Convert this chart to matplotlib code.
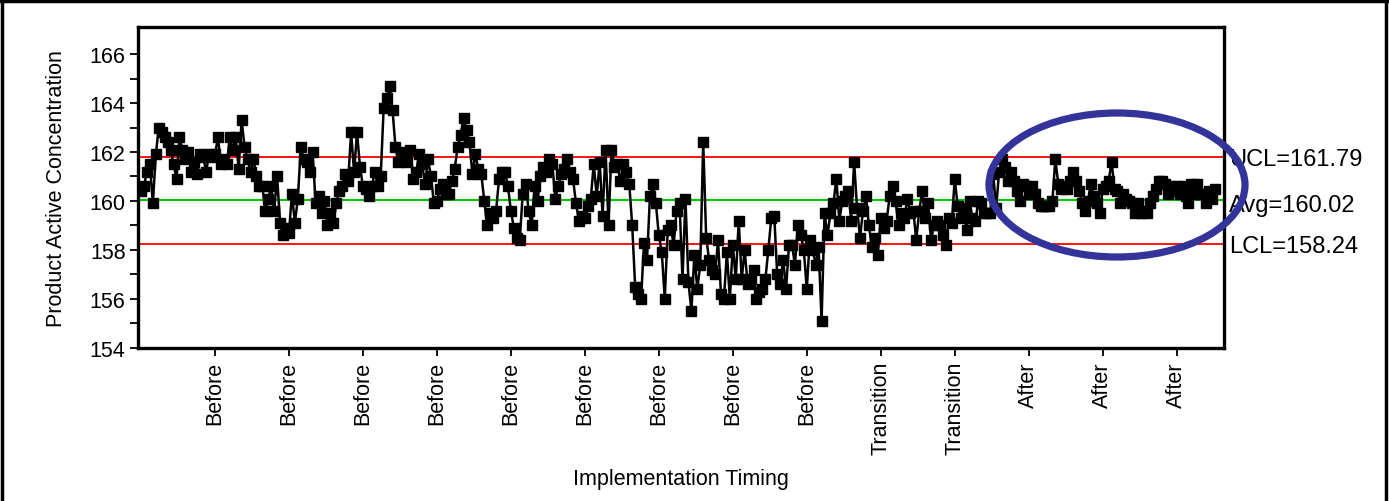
import matplotlib
matplotlib.use("Agg")
import matplotlib.pyplot as plt
from matplotlib.patches import Ellipse
from matplotlib.lines import Line2D
import matplotlib.transforms as mtransforms

plt.rcParams['font.family'] = ['Liberation Sans', 'DejaVu Sans']

# control chart values
values = [
    160.4, 160.6, 161.2, 161.5, 159.9, 161.9, 163.0, 162.8, 162.6, 162.4,
    162.1, 161.5, 160.9, 162.6, 162.1, 161.7, 162.0, 161.2, 161.6, 161.1,
    161.9, 161.8, 161.2, 161.9, 161.8, 161.9, 162.6, 161.5, 161.7, 161.5,
    162.6, 162.1, 162.6, 161.3, 163.3, 162.2, 161.7, 161.2, 161.7, 161.0,
    160.6, 160.6, 159.6, 160.1, 160.6, 159.6, 161.0, 159.1, 158.6, 158.9,
    158.7, 160.3, 159.1, 160.1, 162.2, 161.7, 161.6, 161.2, 162.0, 159.9,
    160.2, 159.5, 160.0, 159.0, 159.5, 159.1, 159.9, 160.4, 160.6, 161.1,
    160.8, 162.8, 161.2, 162.8, 161.4, 160.6, 160.5, 160.2, 160.6, 161.2,
    160.6, 161.0, 163.8, 164.2, 164.7, 163.7, 162.2, 161.6, 162.0, 161.7,
    161.6, 162.1, 160.9, 161.2, 161.9, 161.5, 160.7, 161.7, 161.0, 159.9,
    160.0, 160.5, 160.7, 160.3, 160.3, 160.8, 161.3, 162.2, 162.7, 163.4,
    162.9, 162.4, 161.1, 161.9, 161.3, 161.1, 160.0, 159.0, 159.5, 159.3,
    159.6, 160.9, 161.2, 161.2, 160.6, 159.6, 158.9, 158.5, 158.4, 160.3,
    160.7, 159.6, 159.0, 160.6, 160.0, 161.0, 161.4, 161.2, 161.7, 161.5,
    160.1, 160.6, 161.1, 161.3, 161.7, 161.2, 160.9, 159.9, 159.2, 159.4,
    159.3, 159.8, 160.1, 161.5, 160.2, 161.6, 159.4, 162.1, 159.0, 162.1,
    161.4, 161.5, 160.8, 161.5, 161.2, 160.7, 159.0, 156.5, 156.2, 156.0,
    158.3, 157.6, 160.2, 160.7, 159.9, 158.6, 157.9, 156.0, 158.8, 159.0,
    158.2, 159.6, 159.9, 156.8, 160.1, 156.7, 155.5, 157.8, 156.4, 157.4,
    162.4, 158.5, 157.6, 157.2, 157.0, 158.4, 156.2, 156.0, 157.9, 156.0,
    158.2, 156.8, 159.2, 156.8, 158.0, 156.6, 156.8, 157.2, 156.0, 156.3,
    156.4, 156.8, 158.0, 159.3, 159.4, 157.0, 156.6, 157.6, 156.4, 158.2,
    158.2, 157.4, 159.0, 158.6, 158.0, 156.4, 158.4, 158.0, 157.4, 158.1,
    155.1, 159.5, 158.6, 159.5, 159.9, 160.9, 159.2, 160.0, 160.2, 160.4,
    159.2, 161.6, 159.7, 158.5, 159.6, 160.2, 159.0, 158.1, 158.5, 157.8,
    159.3, 158.9, 159.2, 160.2, 160.6, 160.0, 159.0, 159.5, 159.3, 160.1,
    159.5, 159.6, 158.4, 159.6, 160.4, 159.3, 159.9, 158.4, 159.0, 159.2,
    159.0, 158.6, 158.2, 159.3, 159.1, 160.9, 159.8, 159.3, 159.7, 158.8,
    160.0, 159.3, 159.2, 160.0, 159.9, 159.5, 159.5, 159.5, 161.1, 159.7,
    161.2, 161.7, 161.4, 160.8, 161.2, 160.8, 160.4, 160.0, 160.7, 160.6,
    160.3, 160.6, 160.3, 159.9, 159.8, 159.8, 159.8, 159.8, 160.0, 161.7,
    160.7, 160.5, 160.6, 160.5, 160.8, 161.2, 160.8, 160.4, 159.9, 159.6,
    160.0, 160.7, 160.2, 159.9, 159.5, 160.5, 160.6, 160.8, 161.6, 160.5,
    160.4, 159.9, 160.3, 160.1, 160.0, 159.9, 159.5, 159.9, 159.5, 159.6,
    159.5, 159.9, 160.2, 160.5, 160.8, 160.8, 160.7, 160.3, 160.6, 160.4,
    160.6, 160.3, 160.6, 160.2, 159.9, 160.7, 160.3, 160.7, 160.3, 160.3,
    159.9, 160.4, 160.1, 160.5,
]

ucl = 161.79
avg = 160.02
lcl = 158.24

tick_pos = [25, 50, 75, 100, 125, 150, 175, 200, 225, 250, 275, 300, 325, 350]
tick_labels = ["Before"] * 9 + ["Transition"] * 2 + ["After"] * 3

fig = plt.figure(figsize=(13.89, 5.02), dpi=100)
ax = fig.add_axes([0.0994, 0.305, 0.7818, 0.639])

ax.axhline(ucl, color="#ff0000", lw=1.3, zorder=1)
ax.axhline(lcl, color="#ff0000", lw=1.3, zorder=1)
ax.axhline(avg, color="#00cc00", lw=1.5, zorder=1)

ax.plot(range(len(values)), values, color="black", lw=1.8,
        marker="s", markersize=6.5, zorder=3)

ax.set_xlim(-1, 366)
ax.set_ylim(154, 167.1)
ax.set_yticks(range(154, 167, 2))
ax.set_yticks(range(155, 167, 2), minor=True)
ax.set_xticks(tick_pos)
ax.set_xticklabels(tick_labels, rotation=90)
ax.tick_params(axis="both", which="both", direction="out", length=6,
               width=1.3, labelsize=15.5)
ax.tick_params(axis="y", pad=3)
for sp in ax.spines.values():
    sp.set_linewidth(2.4)

ax.set_ylabel("Product Active Concentration", fontsize=15.5, labelpad=16)
ax.set_xlabel("Implementation Timing", fontsize=15.5, labelpad=10)

trans = mtransforms.blended_transform_factory(ax.transAxes, ax.transData)
ax.text(1.005, ucl - 0.08, "UCL=161.79", transform=trans, fontsize=17, va="center")
ax.text(1.005, avg - 0.2, "Avg=160.02", transform=trans, fontsize=17, va="center")
ax.text(1.005, lcl - 0.06, "LCL=158.24", transform=trans, fontsize=17, va="center")

# highlight ring around the "After" section
ring = Ellipse((1117 / 1389, 1 - 186 / 502), 256 / 1389, 144 / 502,
               transform=fig.transFigure, fill=False, edgecolor="#333399",
               lw=5.2, zorder=10)
fig.patches.append(ring)

# outer frame of the picture
for xs, ys in [([0.001, 0.999], [0.997, 0.997]),
               ([0.0015, 0.0015], [0.0, 0.997]),
               ([0.998, 0.998], [0.0, 0.997])]:
    fig.lines.append(Line2D(xs, ys, transform=fig.transFigure, color="black", lw=2.5))

fig.savefig("out.png", dpi=100)
